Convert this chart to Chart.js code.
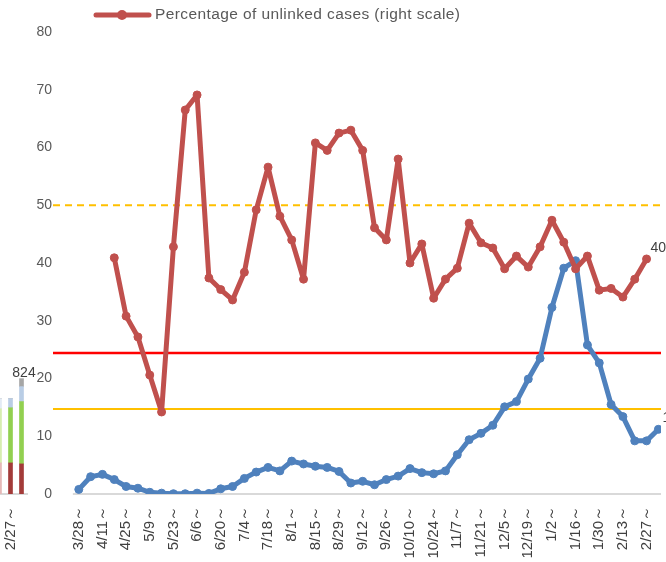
<!DOCTYPE html>
<html lang="en">
<head>
<meta charset="UTF-8">
<title>Percentage of unlinked cases</title>
<style>
    html, body { margin: 0; padding: 0; background: #fff; }
    #wrap { position: relative; width: 666px; height: 562px; overflow: hidden; }
    #main { position: absolute; left: 0; top: 0; }
    #left { position: absolute; left: -6px; top: 0; }
</style>
</head>
<body>
<div id="wrap">
    <canvas id="main" width="666" height="562"></canvas>
    <canvas id="left" width="45" height="562"></canvas>
</div>

<script src="https://cdn.jsdelivr.net/npm/chart.js"></script>
<script>

// weeks (start date of each week), one label every two weeks on the axis
const weeks = ['3/28～','4/4～','4/11～','4/18～','4/25～','5/2～','5/9～','5/16～','5/23～','5/30～',
               '6/6～','6/13～','6/20～','6/27～','7/4～','7/11～','7/18～','7/25～','8/1～','8/8～',
               '8/15～','8/22～','8/29～','9/5～','9/12～','9/19～','9/26～','10/3～','10/10～','10/17～',
               '10/24～','10/31～','11/7～','11/14～','11/21～','11/28～','12/5～','12/12～','12/19～','12/26～',
               '1/2～','1/9～','1/16～','1/23～','1/30～','2/6～','2/13～','2/20～','2/27～','3/6～'];

// % of unlinked cases (right scale)
const unlinkedPct = [null, null, null,
    40.9, 30.8, 27.2, 20.6, 14.2, 42.8, 66.5, 69.1, 37.4, 35.4,
    33.6, 38.4, 49.2, 56.6, 48.1, 44.0, 37.2, 60.8, 59.5, 62.5,
    63.0, 59.5, 46.1, 44.0, 58.0, 40.0, 43.3, 33.9, 37.2, 39.1,
    46.9, 43.5, 42.6, 39.0, 41.2, 39.3, 42.8, 47.4, 43.6, 39.0,
    41.2, 35.3, 35.6, 34.1, 37.2, 40.7, null];

// blue series
const weeklyCases = [0.8, 3.0, 3.4, 2.5, 1.3, 1.0, 0.3, 0.15, 0.05, 0.05,
    0.15, 0.1, 0.9, 1.3, 2.7, 3.8, 4.6, 4.0, 5.7, 5.2,
    4.8, 4.6, 3.9, 1.9, 2.2, 1.6, 2.5, 3.1, 4.4, 3.7,
    3.5, 4.0, 6.8, 9.4, 10.5, 11.9, 15.1, 16.0, 19.9, 23.5,
    32.3, 39.1, 40.4, 25.8, 22.7, 15.5, 13.4, 9.2, 9.2, 11.2];

// horizontal reference levels
const refLevels = [50, 24.4, 14.7];

// left panel (end of the previous chart)
const leftWeeks = ['2/20～', '2/27～', '3/6～'];
const leftPart1 = [222, 222, 215];
const leftPart2 = [387, 394, 445];
const leftPart3 = [72, 65, 107];
const leftPart4 = [0, 0, 57];

Chart.defaults.font.family = "'Liberation Sans', Arial, sans-serif";
Chart.defaults.font.size = 14;
Chart.defaults.color = '#595959';

const refStyles = [
    { color: '#FFC000', width: 2, dash: [7, 5] },
    { color: '#FF0000', width: 2.5, dash: [] },
    { color: '#FFC000', width: 2, dash: [] }
];

const series = [unlinkedPct, weeklyCases];

const linhasRef = {
    id: 'linhasRef',
    beforeDatasetsDraw(chart) {
        const { ctx, chartArea, scales } = chart;
        ctx.save();
        // base line of the x axis
        const y0 = scales.y.getPixelForValue(0);
        ctx.strokeStyle = '#D9D9D9';
        ctx.lineWidth = 2;
        ctx.beginPath();
        ctx.moveTo(scales.x.getPixelForValue(-0.5), y0);
        ctx.lineTo(chartArea.right, y0);
        ctx.stroke();

        refLevels.forEach(function (v, i) {
            const y = scales.y.getPixelForValue(v);
            ctx.strokeStyle = refStyles[i].color;
            ctx.lineWidth = refStyles[i].width;
            ctx.setLineDash(refStyles[i].dash);
            ctx.beginPath();
            ctx.moveTo(chartArea.left, y);
            ctx.lineTo(chartArea.right, y);
            ctx.stroke();
        });
        ctx.restore();
    },
    afterDatasetsDraw(chart) {
        // value of the last point of each line
        const ctx = chart.ctx;
        ctx.save();
        ctx.font = "14px 'Liberation Sans', Arial, sans-serif";
        ctx.fillStyle = '#404040';
        ctx.textBaseline = 'middle';
        series.forEach(function (valores, i) {
            let last = valores.length - 1;
            while (valores[last] === null) last--;
            const p = chart.getDatasetMeta(i).data[last];
            ctx.fillText(valores[last].toFixed(1), p.x + 4, p.y - 11);
        });
        ctx.restore();
    },
    afterDraw(chart) {
        // legend: only the red series
        const ctx = chart.ctx;
        const ds = chart.data.datasets[0];
        ctx.save();
        ctx.strokeStyle = ds.borderColor;
        ctx.fillStyle = ds.borderColor;
        ctx.lineWidth = 5;
        ctx.lineCap = 'round';
        ctx.beginPath();
        ctx.moveTo(96, 15);
        ctx.lineTo(149, 15);
        ctx.stroke();
        ctx.beginPath();
        ctx.arc(122, 15, 5, 0, Math.PI * 2);
        ctx.fill();
        ctx.font = "15.5px 'Liberation Sans', Arial, sans-serif";
        ctx.letterSpacing = '0.4px';
        ctx.fillStyle = '#595959';
        ctx.textBaseline = 'middle';
        ctx.fillText(ds.label, 155, 15);
        ctx.restore();
    }
};

const tickIdx = [];
for (let i = 0; i < weeks.length; i += 2) tickIdx.push(i);

new Chart(document.getElementById('main'), {
    type: 'line',
    data: {
        datasets: [{
            label: 'Percentage of unlinked cases (right scale)',
            data: unlinkedPct.map(function (v, i) { return { x: i, y: v }; }),
            borderColor: '#C0504D',
            backgroundColor: '#C0504D',
            borderWidth: 5,
            pointRadius: 4,
            pointBorderWidth: 1,
            borderJoinStyle: 'round',
            borderCapStyle: 'round',
            tension: 0
        }, {
            label: 'Cases',
            data: weeklyCases.map(function (v, i) { return { x: i, y: v }; }),
            borderColor: '#4F81BD',
            backgroundColor: '#4F81BD',
            borderWidth: 5,
            pointRadius: 4,
            pointBorderWidth: 1,
            borderJoinStyle: 'round',
            borderCapStyle: 'round',
            tension: 0
        }]
    },
    options: {
        responsive: false,
        animation: false,
        layout: { padding: { top: 32, left: 0, right: -5, bottom: 0 } },
        plugins: {
            legend: { display: false },
            tooltip: { enabled: false }
        },
        scales: {
            x: {
                type: 'linear',
                min: -2.18,
                max: 49.22,
                grid: { display: false, drawTicks: false },
                border: { display: false },
                afterBuildTicks: function (axis) {
                    axis.ticks = tickIdx.map(function (v) { return { value: v }; });
                },
                afterFit: function (axis) {
                    axis.height = 68;
                    axis.paddingLeft = 0;
                    axis.paddingRight = 0;
                },
                ticks: {
                    autoSkip: false,
                    minRotation: 90,
                    maxRotation: 90,
                    padding: 12,
                    color: '#404040',
                    font: { size: 15 },
                    callback: function (v) { return weeks[v]; }
                }
            },
            y: {
                min: 0,
                max: 80,
                grid: { display: false, drawTicks: false },
                border: { display: false },
                afterFit: function (axis) { axis.width = 53; },
                ticks: { stepSize: 10, padding: 1 }
            }
        }
    },
    plugins: [linhasRef]
});

// left panel, stacked bars
const totalLabel = {
    id: 'totalLabel',
    afterDatasetsDraw(chart) {
        const ctx = chart.ctx;
        const last = leftWeeks.length - 1;
        const total = leftPart1[last] + leftPart2[last] + leftPart3[last] + leftPart4[last];
        const top = chart.getDatasetMeta(chart.data.datasets.length - 1).data[last];
        ctx.save();
        ctx.font = "14px 'Liberation Sans', Arial, sans-serif";
        ctx.fillStyle = '#404040';
        ctx.textAlign = 'center';
        ctx.textBaseline = 'bottom';
        ctx.fillText(String(total), top.x + 2.5, top.y + 2);
        ctx.restore();
    }
};

new Chart(document.getElementById('left'), {
    type: 'bar',
    data: {
        labels: leftWeeks,
        datasets: [
            { data: leftPart1, backgroundColor: ['#E6B9B8', '#A33B39', '#A33B39'], barThickness: 4 },
            { data: leftPart2, backgroundColor: ['#D7EDB0', '#92D050', '#92D050'], barThickness: 4 },
            { data: leftPart3, backgroundColor: ['#E3EBF5', '#B9CDE5', '#B9CDE5'], barThickness: 4 },
            { data: leftPart4, backgroundColor: ['#A6A6A6', '#A6A6A6', '#A6A6A6'], barThickness: 4 }
        ]
    },
    options: {
        responsive: false,
        animation: false,
        layout: { padding: { top: 32, left: 0, right: 12, bottom: 0 } },
        plugins: {
            legend: { display: false },
            tooltip: { enabled: false }
        },
        scales: {
            x: {
                stacked: true,
                grid: { display: false, drawTicks: false },
                border: { color: '#D9D9D9', width: 2 },
                afterFit: function (axis) {
                    axis.height = 68;
                    axis.paddingLeft = 0;
                    axis.paddingRight = 0;
                },
                ticks: {
                    autoSkip: false,
                    minRotation: 90,
                    maxRotation: 90,
                    padding: 12,
                    color: '#404040',
                    font: { size: 15 },
                    callback: function (v, i) { return i === 1 ? leftWeeks[i] : ''; }
                }
            },
            y: {
                stacked: true,
                display: false,
                min: 0,
                max: 3300
            }
        }
    },
    plugins: [totalLabel]
});

</script>
</body>
</html>
